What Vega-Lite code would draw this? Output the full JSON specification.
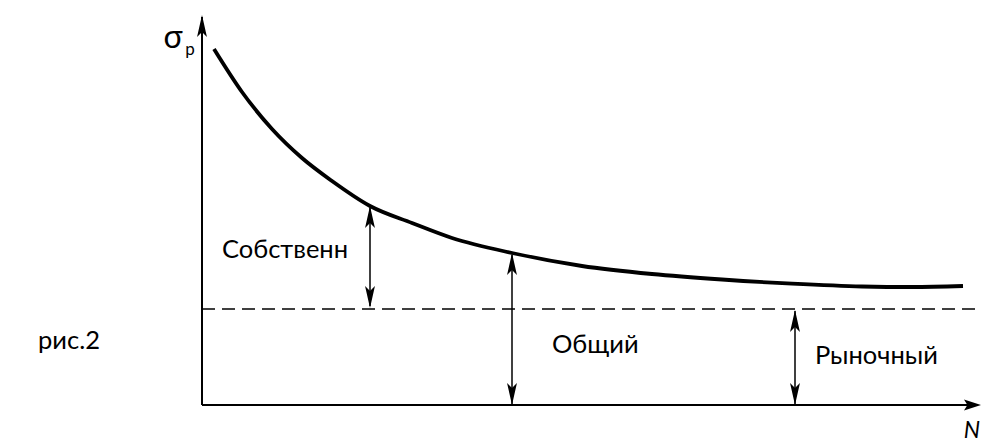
{
  "$schema": "https://vega.github.io/schema/vega-lite/v6.json",
  "autosize": "none",
  "width": 982,
  "height": 445,
  "padding": 0,
  "background": "white",
  "config": {"view": {"stroke": null}},
  "datasets": {
    "curve": [
      {"n": 12, "s": 356}, {"n": 40, "s": 313}, {"n": 70, "s": 276}, {"n": 100, "s": 247},
      {"n": 130, "s": 224}, {"n": 168, "s": 199}, {"n": 210, "s": 182}, {"n": 250, "s": 167},
      {"n": 310, "s": 152}, {"n": 380, "s": 139}, {"n": 450, "s": 131}, {"n": 520, "s": 125.5},
      {"n": 590, "s": 121.3}, {"n": 660, "s": 118.5}, {"n": 710, "s": 118}, {"n": 761, "s": 119}
    ],
    "axes": [
      {"n": 0, "s": 0, "n2": 0, "s2": 388},
      {"n": 0, "s": 0, "n2": 776, "s2": 0}
    ],
    "market": [{"n": 0, "s": 96, "n2": 773, "s2": 96}],
    "spans": [
      {"n": 168, "s": 99, "s2": 197},
      {"n": 310, "s": 1, "s2": 150},
      {"n": 593, "s": 1, "s2": 94}
    ],
    "heads": [
      {"n": 0, "s": 390, "dir": "up"},
      {"n": 779, "s": 0, "dir": "right"},
      {"n": 168, "s": 199, "dir": "up"},
      {"n": 168, "s": 97, "dir": "down"},
      {"n": 310, "s": 152, "dir": "up"},
      {"n": 310, "s": 0, "dir": "down"},
      {"n": 593, "s": 95, "dir": "up"},
      {"n": 593, "s": 0, "dir": "down"}
    ],
    "labels": [
      {"n": 20, "s": 147, "t": "Собственн"},
      {"n": 350, "s": 52, "t": "Общий"},
      {"n": 613, "s": 41, "t": "Рыночный"},
      {"n": -164, "s": 56, "t": "рис.2"}
    ]
  },
  "encoding": {
    "x": {"field": "n", "type": "quantitative", "scale": {"domain": [-202, 780]}, "axis": null},
    "y": {"field": "s", "type": "quantitative", "scale": {"domain": [-40, 405]}, "axis": null}
  },
  "layer": [
    {
      "data": {"name": "axes"},
      "mark": {"type": "rule", "stroke": "black", "strokeWidth": 2},
      "encoding": {"x2": {"field": "n2"}, "y2": {"field": "s2"}}
    },
    {
      "data": {"name": "market"},
      "mark": {"type": "rule", "stroke": "black", "strokeWidth": 1.5, "strokeDash": [13, 7]},
      "encoding": {"x2": {"field": "n2"}, "y2": {"field": "s2"}}
    },
    {
      "data": {"name": "spans"},
      "mark": {"type": "rule", "stroke": "black", "strokeWidth": 1.5},
      "encoding": {"y2": {"field": "s2"}}
    },
    {
      "data": {"name": "curve"},
      "mark": {"type": "line", "stroke": "black", "strokeWidth": 3.8, "interpolate": "monotone"},
      "encoding": {}
    },
    {
      "data": {"name": "heads"},
      "transform": [{"filter": "datum.dir === 'up'"}],
      "mark": {"type": "point", "filled": true, "color": "black", "opacity": 1, "size": 484,
               "shape": "M0,0 L0.45,2 L0,1.55 L-0.45,2 Z"}
    },
    {
      "data": {"name": "heads"},
      "transform": [{"filter": "datum.dir === 'down'"}],
      "mark": {"type": "point", "filled": true, "color": "black", "opacity": 1, "size": 484,
               "shape": "M0,0 L0.45,-2 L0,-1.55 L-0.45,-2 Z"}
    },
    {
      "data": {"name": "heads"},
      "transform": [{"filter": "datum.dir === 'right'"}],
      "mark": {"type": "point", "filled": true, "color": "black", "opacity": 1, "size": 289,
               "shape": "M0,0 L-2,0.65 L-1.6,0 L-2,-0.65 Z"}
    },
    {
      "data": {"name": "labels"},
      "mark": {"type": "text", "align": "left", "baseline": "alphabetic", "font": "Lato", "fontSize": 25.5, "color": "black"},
      "encoding": {"text": {"field": "t"}}
    },
    {
      "data": {"values": [{"n": 770, "s": -33, "t": "N"}]},
      "mark": {"type": "text", "align": "center", "baseline": "alphabetic", "font": "Lato", "fontSize": 23, "fontStyle": "italic", "color": "black"},
      "encoding": {"text": {"field": "t"}}
    },
    {
      "data": {"values": [{"n": -29, "s": 357, "t": "σ"}]},
      "mark": {"type": "text", "align": "center", "baseline": "alphabetic", "font": "Lato", "fontSize": 32, "color": "black"},
      "encoding": {"text": {"field": "t"}}
    },
    {
      "data": {"values": [{"n": -12, "s": 350, "t": "р"}]},
      "mark": {"type": "text", "align": "center", "baseline": "alphabetic", "font": "Lato", "fontSize": 17, "color": "black"},
      "encoding": {"text": {"field": "t"}}
    }
  ]
}
